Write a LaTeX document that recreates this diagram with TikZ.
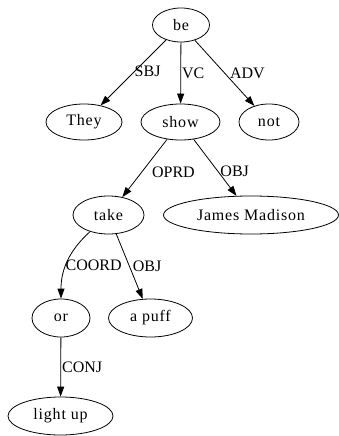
\documentclass[tikz,border=0pt]{standalone}
\usepackage{fontspec}
\setmainfont{Liberation Serif}
\newfontfamily\nodefont[LetterSpace=5]{Liberation Serif}
\usetikzlibrary{shapes.geometric,arrows.meta}
\tikzset{
  word/.style={draw, ellipse, line width=0.8pt, inner sep=0pt, minimum height=36pt, font=\nodefont\fontsize{16}{19}\selectfont},
  dep/.style={draw, line width=0.8pt, -{Triangle[length=10pt,width=7pt]}},
  lbl/.style={font=\fontsize{16}{19}\selectfont, inner sep=1pt, right}
}
\begin{document}
\begin{tikzpicture}[x=1pt,y=-1pt]
\useasboundingbox (0,0) rectangle (339,436);
\node[word, minimum width=57pt, minimum height=34pt] (be) at (181,25) {be};
\node[word, minimum width=76pt] (they) at (84,122) {They};
\node[word, minimum width=79pt] (show) at (180.5,122) {show};
\node[word, minimum width=60pt] (not) at (269,122) {not};
\node[word, minimum width=71pt, minimum height=38pt] (take) at (108.5,215) {take};
\node[word, minimum width=175pt, minimum height=38pt] (jm) at (251,215) {James Madison};
\node[word, minimum width=58pt, minimum height=38pt] (or) at (61,318) {or};
\node[word, minimum width=84pt, minimum height=38pt] (puff) at (150.5,318) {a puff};
\node[word, minimum width=105pt, minimum height=38pt] (light) at (60.5,416) {light up};
\draw[dep] (be) -- node[lbl, yshift=1pt] (l1) {SBJ} (they);
\draw[dep] (be) -- node[lbl, yshift=0pt] (l2) {VC} (show);
\draw[dep] (be) -- node[lbl, xshift=4pt] (l3) {ADV} (not);
\draw[dep] (show) -- node[lbl, xshift=6pt, yshift=-4pt] (l4) {OPRD} (take);
\draw[dep] (show) -- node[lbl, xshift=4pt, yshift=-4pt] (l5) {OBJ} (jm);
\draw[dep] (take) to[out=222, in=90] node[lbl, pos=0.55, xshift=-2pt] (l6) {COORD} (or);
\draw[dep] (take) -- node[lbl, xshift=2pt] (l7) {OBJ} (puff);
\draw[dep] (or) -- node[lbl] (l8) {CONJ} (light);
\end{tikzpicture}
\end{document}
